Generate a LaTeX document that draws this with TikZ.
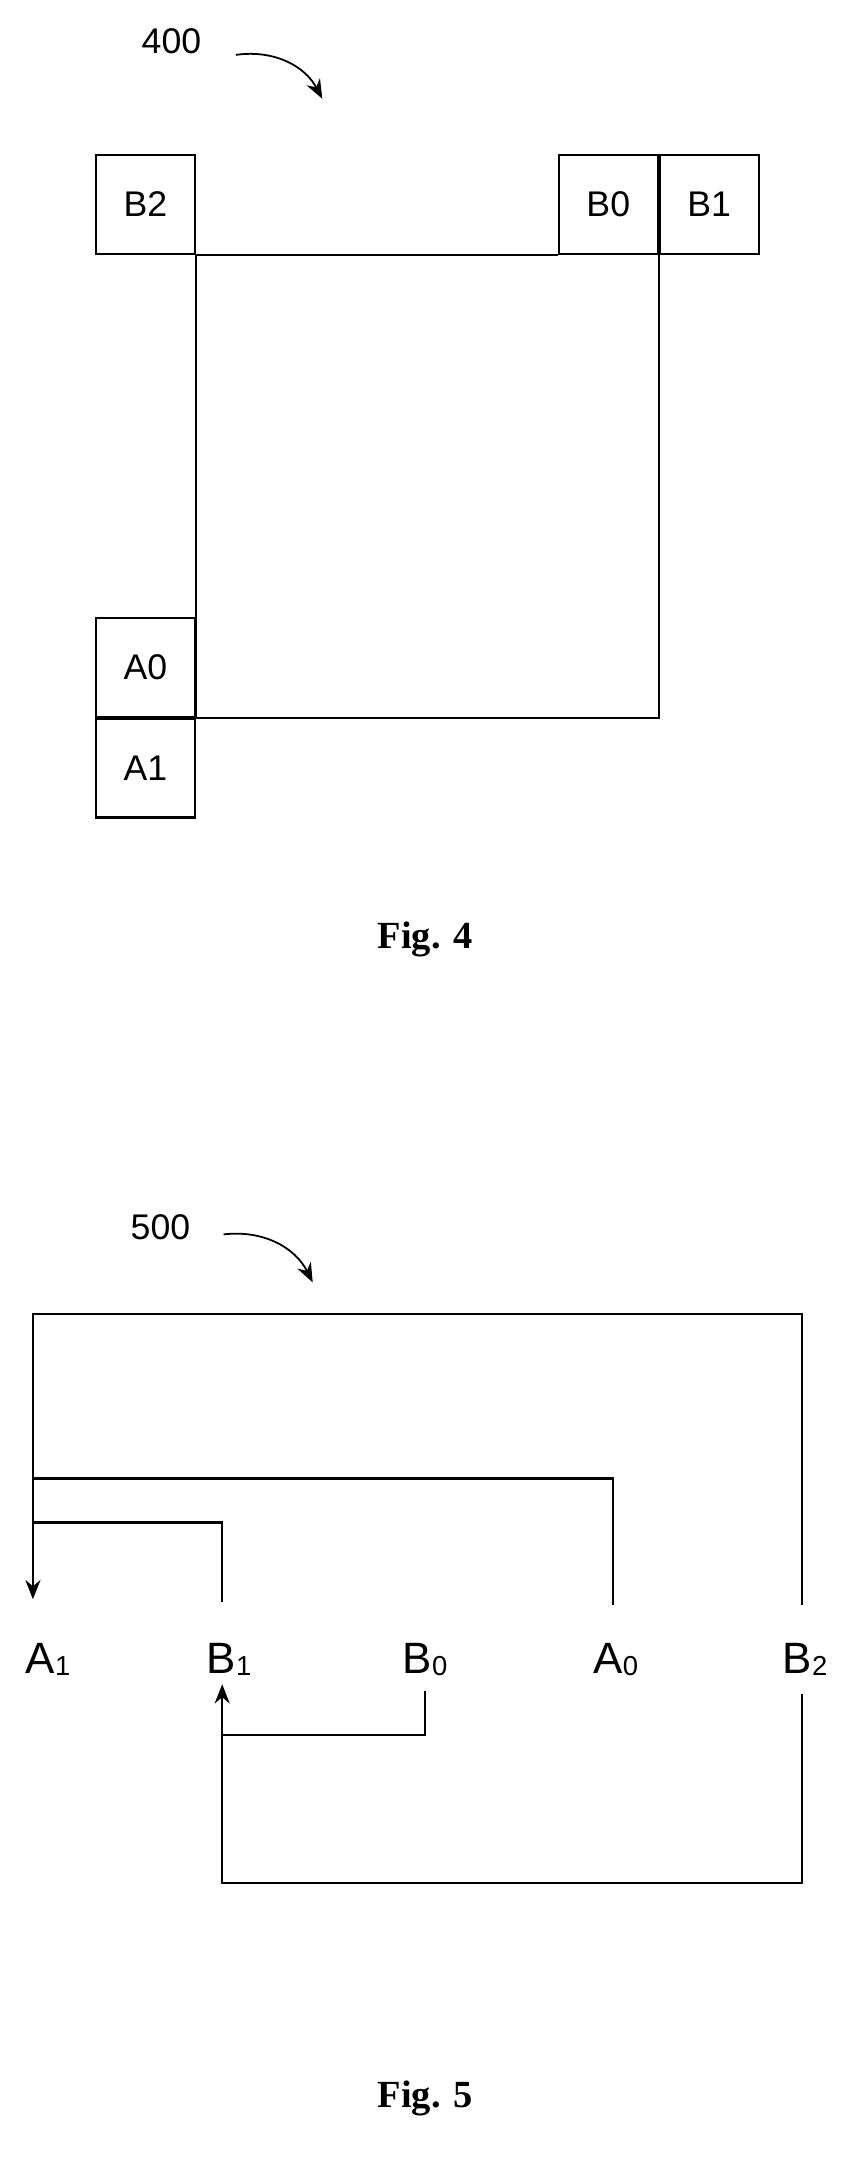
\documentclass[tikz,border=0pt]{standalone}
\usepackage{fontspec}
\setmainfont{Liberation Sans}
\newfontfamily\figfont{Liberation Serif}
\usetikzlibrary{positioning}
\usetikzlibrary{arrows.meta}

\begin{document}
\begin{tikzpicture}[x=1pt,y=-1pt,line width=1.6pt,
  every node/.style={inner sep=0pt},
  cell/.style={draw,minimum width=72pt,minimum height=72pt,font=\fontsize{26}{30}\selectfont},
  lbl/.style={font=\fontsize{32}{36}\selectfont},
  ref/.style={font=\fontsize{26}{30}\selectfont},
  figcap/.style={font=\figfont\bfseries\fontsize{28}{32}\selectfont},
  pt/.style={-{Stealth[length=14pt,width=11pt]}}]
  \useasboundingbox (0,0) rectangle (625,1588);
  % Fig. 4
  \node[ref] (n400) at (125,30) {400};
  \coordinate (c4a) at (172,40);
  \coordinate (c4b) at (235,72);
  \draw[pt,line width=1.3pt] (c4a) to[bend left=35] (c4b);
  \node[cell] (B2) at (106,149) {B2};
  \node[cell] (B0) at (443.5,149) {B0};
  \node[cell,right=0pt of B0] (B1) {B1};
  \node[cell] (A0) at (106,486.5) {A0};
  \node[cell,below=0pt of A0] (A1) {A1};
  \draw (B2.south east) -- (B0.south west);
  \draw (B2.south east) -- (A0.south east) -- (A0.south east -| B0.south east) -- (B0.south east);
  \node[figcap] (f4) at (310,685) {Fig. 4};

  % Fig. 5
  \node[ref] (n500) at (117,895) {500};
  \coordinate (c5a) at (163,900);
  \coordinate (c5b) at (228,935);
  \draw[pt,line width=1.3pt] (c5a) to[bend left=35] (c5b);
  \node[lbl] (a1) at (35,1210) {A\raisebox{-1pt}{\fontsize{20}{22}\selectfont 1}};
  \node[lbl] (b1) at (167,1210) {B\raisebox{-1pt}{\fontsize{20}{22}\selectfont 1}};
  \node[lbl] (b0) at (310,1210) {B\raisebox{-1pt}{\fontsize{20}{22}\selectfont 0}};
  \node[lbl] (a0) at (449,1210) {A\raisebox{-1pt}{\fontsize{20}{22}\selectfont 0}};
  \node[lbl] (b2) at (587,1210) {B\raisebox{-1pt}{\fontsize{20}{22}\selectfont 2}};
  \coordinate (t1) at (24,1166);
  \coordinate (t2) at (162,1228);
  \draw[pt] (585,1170) -- (585,958) -- (24,958) -- (t1);
  \draw (447,1170) -- (447,1078) -- (24,1078);
  \draw (162,1168) -- (162,1110) -- (24,1110);
  \draw[pt] (310,1233) -- (310,1265) -- (162,1265) -- (t2);
  \draw (585,1235) -- (585,1373) -- (162,1373) -- (162,1265);
  \node[figcap] (f5) at (310,1530) {Fig. 5};
\end{tikzpicture}
\end{document}
